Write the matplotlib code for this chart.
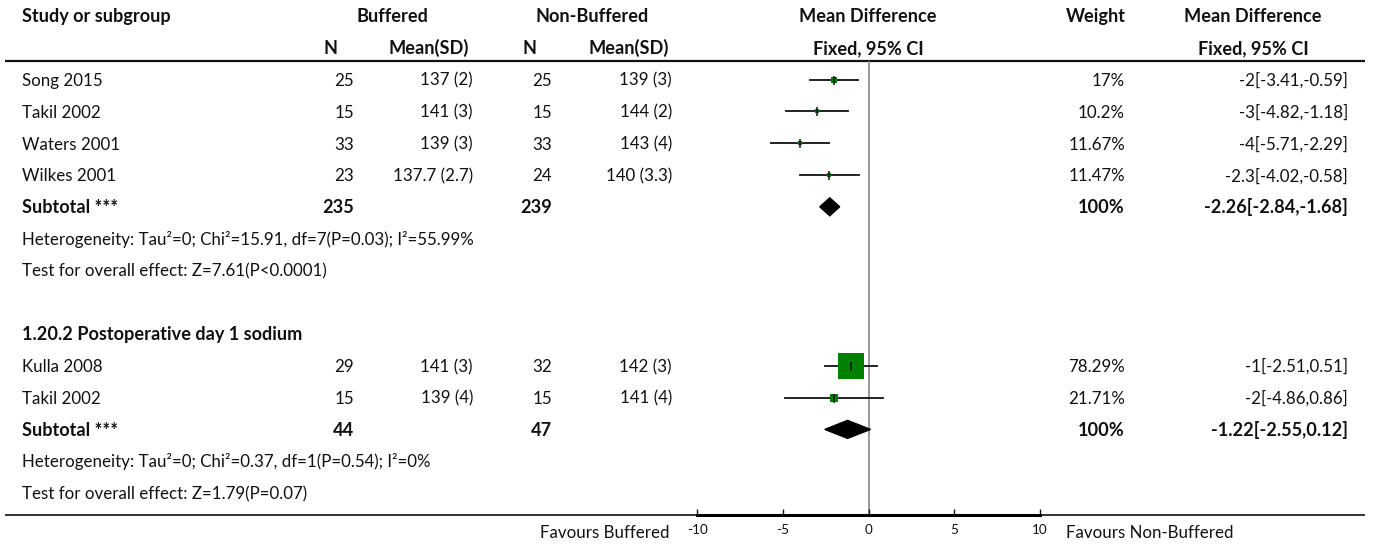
import matplotlib
matplotlib.use("Agg")
import matplotlib.pyplot as plt
from matplotlib.patches import Polygon

# ---------------- data ----------------
g1_studies = ["Song 2015", "Takil 2002", "Waters 2001", "Wilkes 2001"]
g1_n_buf = [25, 15, 33, 23]
g1_msd_buf = ["137 (2)", "141 (3)", "139 (3)", "137.7 (2.7)"]
g1_n_nb = [25, 15, 33, 24]
g1_msd_nb = ["139 (3)", "144 (2)", "143 (4)", "140 (3.3)"]
g1_md = [-2, -3, -4, -2.3]
g1_lo = [-3.41, -4.82, -5.71, -4.02]
g1_hi = [-0.59, -1.18, -2.29, -0.58]
g1_w = [17, 10.2, 11.67, 11.47]
g1_tot_n = [235, 239]
g1_tot = [-2.26, -2.84, -1.68]
g1_het = "Heterogeneity: Tau\u00b2=0; Chi\u00b2=15.91, df=7(P=0.03); I\u00b2=55.99%"
g1_test = "Test for overall effect: Z=7.61(P<0.0001)"

g2_title = "1.20.2 Postoperative day 1 sodium"
g2_studies = ["Kulla 2008", "Takil 2002"]
g2_n_buf = [29, 15]
g2_msd_buf = ["141 (3)", "139 (4)"]
g2_n_nb = [32, 15]
g2_msd_nb = ["142 (3)", "141 (4)"]
g2_md = [-1, -2]
g2_lo = [-2.51, -4.86]
g2_hi = [0.51, 0.86]
g2_w = [78.29, 21.71]
g2_tot_n = [44, 47]
g2_tot = [-1.22, -2.55, 0.12]
g2_het = "Heterogeneity: Tau\u00b2=0; Chi\u00b2=0.37, df=1(P=0.54); I\u00b2=0%"
g2_test = "Test for overall effect: Z=1.79(P=0.07)"

xticks = [-10, -5, 0, 5, 10]
xtick_labels = ["-10", "-5", "0", "5", "10"]
left_label = "Favours Buffered"
right_label = "Favours Non-Buffered"

# ---------------- layout ----------------
W, H = 1375, 545
FAM = "Lato"
plt.rcParams["font.family"] = [FAM, "DejaVu Sans"]

fig = plt.figure(figsize=(W / 100, H / 100), dpi=100)
tab = fig.add_axes([0, 0, 1, 1])
tab.set_xlim(0, W)
tab.set_ylim(H, 0)
tab.axis("off")

# fit font size so the heterogeneity line spans ~452 px
renderer = fig.canvas.get_renderer()
probe = tab.text(0, 0, g1_het, fontsize=10)
wpx = probe.get_window_extent(renderer).width
probe.remove()
FS = 10 * 452 / wpx
FSB = FS * 1.07

def row(i):
    return 16 + 31.8 * i

def txt(x, i, s, ha="left", bold=False, size=None):
    tab.text(x, row(i) + 6.3, s, ha=ha, va="baseline",
             fontsize=size or (FSB if bold else FS),
             fontweight="bold" if bold else "normal",
             color="#111111")

X_LBL = 22
X_NB = 354
X_MB = 473
X_NN = 552
X_MN = 672
X_W = 1125
X_MD = 1348

# headers
txt(X_LBL, 0, "Study or subgroup", bold=True)
txt(392, 0, "Buffered", ha="center", bold=True)
txt(592, 0, "Non-Buffered", ha="center", bold=True)
txt(868, 0, "Mean Difference", ha="center", bold=True)
txt(1096, 0, "Weight", ha="center", bold=True)
txt(1253, 0, "Mean Difference", ha="center", bold=True)
txt(338, 1, "N", ha="right", bold=True)
txt(469, 1, "Mean(SD)", ha="right", bold=True)
txt(537, 1, "N", ha="right", bold=True)
txt(669, 1, "Mean(SD)", ha="right", bold=True)
txt(868, 1, "Fixed, 95% CI", ha="center", bold=True)
txt(1253, 1, "Fixed, 95% CI", ha="center", bold=True)

tab.plot([5, 1365], [61, 61], color="#111111", lw=1.6, solid_capstyle="butt")
tab.plot([5, 1365], [515, 515], color="#111111", lw=1.2, solid_capstyle="butt")

# forest axes
top_px, bot_px = 61, 515
x0_px, x1_px = 697, 1040
ax = fig.add_axes([x0_px / W, (H - bot_px) / H, (x1_px - x0_px) / W, (bot_px - top_px) / H])
ax.set_xlim(-10, 10)
ax.set_ylim(bot_px, top_px)
ax.patch.set_alpha(0)
for s in ["left", "right", "top"]:
    ax.spines[s].set_visible(False)
ax.spines["bottom"].set_linewidth(2.2)
ax.set_yticks([])
ax.set_xticks(xticks)
ax.set_xticklabels(xtick_labels)
ax.tick_params(axis="x", direction="in", length=4.5, width=1, pad=6.5,
               labelsize=FS * 0.8, colors="#111111")
ax.axvline(0, color="#8a8a8a", lw=1.2, zorder=1)

def fmt_md(m, l, h):
    return f"{m:g}[{l:g},{h:g}]"

def study_rows(start, studies, nb, mb, nn, mn, md, lo, hi, w):
    for k in range(len(studies)):
        i = start + k
        txt(X_LBL, i, studies[k])
        txt(X_NB, i, str(nb[k]), ha="right")
        txt(X_MB, i, mb[k], ha="right")
        txt(X_NN, i, str(nn[k]), ha="right")
        txt(X_MN, i, mn[k], ha="right")
        txt(X_W, i, f"{w[k]:g}%", ha="right")
        txt(X_MD, i, fmt_md(md[k], lo[k], hi[k]), ha="right")
        y = row(i)
        ax.plot([lo[k], hi[k]], [y, y], color="#111111", lw=1.3, zorder=2)
        side_px = 0.326 * w[k]
        ax.scatter([md[k]], [y], marker="s", s=(side_px * 0.72) ** 2,
                   color="#008000", linewidths=0, zorder=3)
        ax.scatter([md[k]], [y], marker="|", s=(9 * 0.72) ** 2,
                   color="#111111", linewidths=1.1, zorder=4)

def subtotal(i, tot_n, tot):
    txt(X_LBL, i, "Subtotal ***", bold=True)
    txt(X_NB, i, str(tot_n[0]), ha="right", bold=True)
    txt(X_NN, i, str(tot_n[1]), ha="right", bold=True)
    txt(X_W, i, "100%", ha="right", bold=True)
    txt(X_MD, i, fmt_md(*tot), ha="right", bold=True)
    y = row(i)
    m, l, h = tot
    ax.add_patch(Polygon([[l, y], [m, y - 9], [h, y], [m, y + 9]],
                         closed=True, color="#000000", zorder=3))

# group 1
study_rows(2, g1_studies, g1_n_buf, g1_msd_buf, g1_n_nb, g1_msd_nb, g1_md, g1_lo, g1_hi, g1_w)
subtotal(6, g1_tot_n, g1_tot)
txt(X_LBL, 7, g1_het)
txt(X_LBL, 8, g1_test)

# group 2
txt(X_LBL, 10, g2_title, bold=True)
study_rows(11, g2_studies, g2_n_buf, g2_msd_buf, g2_n_nb, g2_msd_nb, g2_md, g2_lo, g2_hi, g2_w)
subtotal(13, g2_tot_n, g2_tot)
txt(X_LBL, 14, g2_het)
txt(X_LBL, 15, g2_test)

# favours labels
tab.text(670, 538, left_label, ha="right", va="baseline", fontsize=FS, color="#111111")
tab.text(1066, 538, right_label, ha="left", va="baseline", fontsize=FS, color="#111111")

fig.savefig("out.png", dpi=100)
